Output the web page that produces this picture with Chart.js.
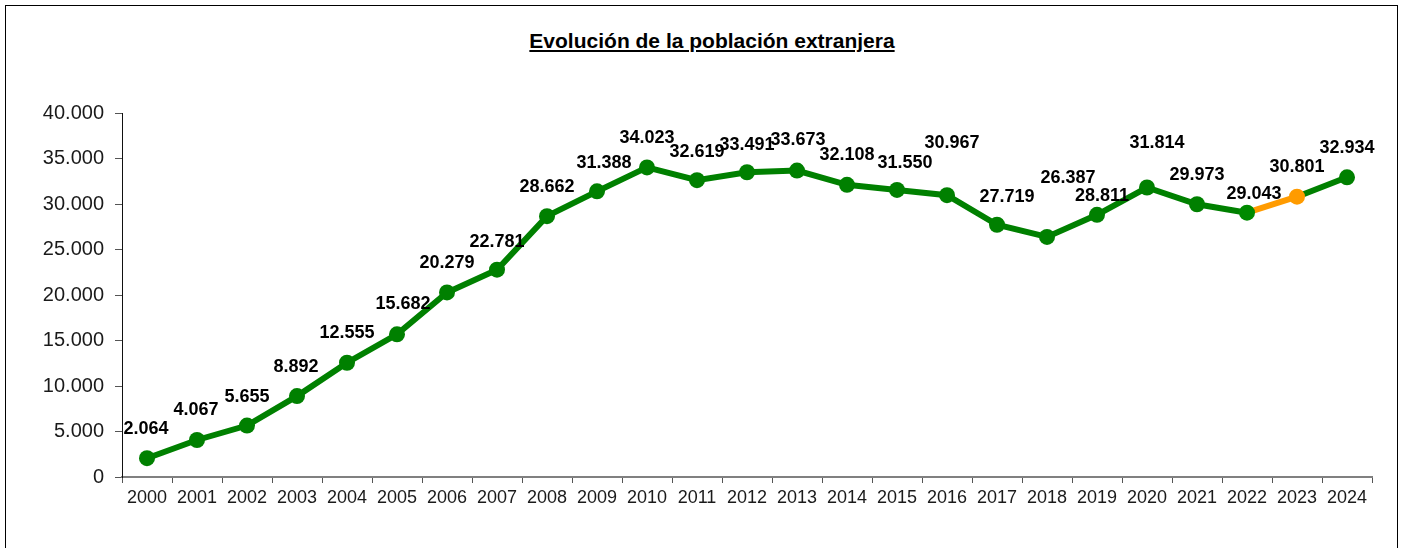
<!DOCTYPE html>
<html>
<head>
<meta charset="utf-8">
<script src="https://cdn.jsdelivr.net/npm/chart.js@4.4.0/dist/chart.umd.min.js"></script>
<style>
  body { margin: 0; background: #fff; }
  #wrap { position: relative; width: 1403px; height: 548px; overflow: hidden; background: #fff; }
  #frame {
    position: absolute; left: 5px; top: 5px; width: 1393px; height: 600px;
    border: 1.5px solid #000; box-sizing: border-box;
  }
  #title {
    position: absolute; top: 29px; left: 0; width: 1424px; text-align: center;
    font: bold 21px "Liberation Sans", Arial, sans-serif; color: #000;
    text-decoration: underline;
  }
  #chart { position: absolute; left: 0; top: 0; }
</style>
</head>
<body>
<div id="wrap">
  <div id="frame"></div>
  <div id="title">Evolución de la población extranjera</div>
  <canvas id="chart" width="1403" height="548"></canvas>
</div>
<script>
const years = ["2000", "2001", "2002", "2003", "2004", "2005", "2006", "2007", "2008", "2009",
  "2010", "2011", "2012", "2013", "2014", "2015", "2016", "2017", "2018", "2019",
  "2020", "2021", "2022", "2023", "2024"];
const population = [2064, 4067, 5655, 8892, 12555, 15682, 20279, 22781, 28662, 31388,
  34023, 32619, 33491, 33673, 32108, 31550, 30967, 27719, 26387, 28811,
  31814, 29973, 29043, 30801, 32934];
const yTicks = [0, 5000, 10000, 15000, 20000, 25000, 30000, 35000, 40000];

// label nudges (pixels) relative to each point
const labelDx = [-1, -1, 0, -1, 0, 6, 0, 0, 0, 7, 0, 0, 0, 1, 0, 8, 5, 10, 21, 5, 10, 0, 7, 0, 0];
const labelDy = [-29, -30, -29, -29, -30, -30, -29, -28, -29, -28, -29, -28, -27, -31, -30, -27, -52, -28, -59, -19, -44, -29, -19, -30, -29];

const green = "#008000";
const orange = "#ff9b00";
const estimateIdx = 23;

const fmt = (v) => String(v).replace(/\B(?=(\d{3})+(?!\d))/g, ".");
const font = '"Liberation Sans", Arial, sans-serif';

const valueLabels = {
  id: "valueLabels",
  afterDatasetsDraw(chart) {
    const ctx = chart.ctx;
    const meta = chart.getDatasetMeta(0);
    ctx.save();
    ctx.font = "bold 18px " + font;
    ctx.fillStyle = "#000";
    ctx.textAlign = "center";
    ctx.textBaseline = "middle";
    meta.data.forEach((pt, i) => {
      ctx.fillText(fmt(population[i]), pt.x + labelDx[i], pt.y + labelDy[i]);
    });
    ctx.restore();
  },
};

new Chart(document.getElementById("chart").getContext("2d"), {
  type: "line",
  data: {
    labels: years,
    datasets: [
      {
        data: population,
        borderColor: green,
        borderWidth: 6,
        segment: {
          borderColor: (c) => (c.p1DataIndex === estimateIdx ? orange : green),
        },
        pointRadius: 8,
        pointHoverRadius: 8,
        pointBorderWidth: 0,
        pointBackgroundColor: population.map((_, i) =>
          i === estimateIdx ? orange : i === estimateIdx - 1 ? "#008a00" : green
        ),
        tension: 0,
      },
    ],
  },
  options: {
    responsive: false,
    animation: false,
    layout: { padding: { left: 0, right: 31, top: 113, bottom: 0 } },
    plugins: {
      legend: { display: false },
      title: { display: false },
      tooltip: { enabled: false },
    },
    scales: {
      x: {
        offset: true,
        grid: {
          offset: true,
          drawOnChartArea: false,
          drawTicks: true,
          tickLength: 6,
          color: "#555",
        },
        border: { color: "#808080", width: 2 },
        ticks: {
          color: "#1a1a1a",
          font: { family: font, size: 18 },
          padding: 4,
          maxRotation: 0,
          autoSkip: false,
        },
        afterFit: (s) => { s.height = 71; },
      },
      y: {
        min: 0,
        max: 40000,
        afterBuildTicks: (s) => { s.ticks = yTicks.map((v) => ({ value: v })); },
        grid: {
          drawOnChartArea: false,
          drawTicks: true,
          tickLength: 7,
          color: "#555",
        },
        border: { color: "#111", width: 1 },
        ticks: {
          color: "#1a1a1a",
          font: { family: font, size: 20 },
          padding: 11,
          callback: (v) => fmt(v),
        },
        afterFit: (s) => { s.width = 122; },
      },
    },
  },
  plugins: [valueLabels],
});
</script>
</body>
</html>
